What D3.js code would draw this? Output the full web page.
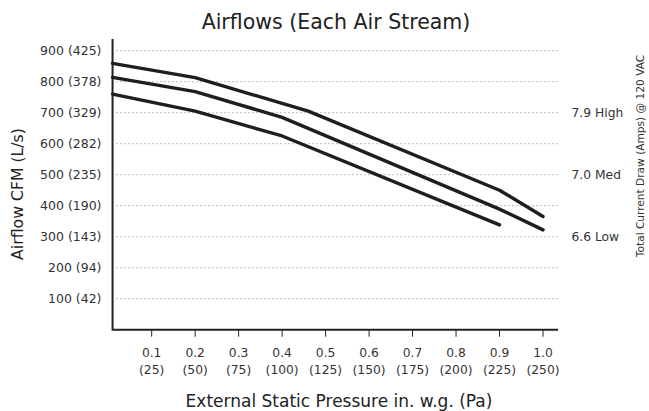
<!DOCTYPE html>
<html>
<head>
<meta charset="utf-8">
<script src="https://cdn.jsdelivr.net/npm/d3@7"></script>
<style>
  body { margin: 0; background: #fff; }
  svg text { font-family: "DejaVu Sans", sans-serif; fill: #333; }
</style>
</head>
<body>
<div id="chart"></div>
<script>
(function(){
    "use strict";

    // ticks
    var pressureTicks = [0.1, 0.2, 0.3, 0.4, 0.5, 0.6, 0.7, 0.8, 0.9, 1.0];
    var paLabels = ["(25)", "(50)", "(75)", "(100)", "(125)", "(150)", "(175)", "(200)", "(225)", "(250)"];
    var cfmTicks = [100, 200, 300, 400, 500, 600, 700, 800, 900];
    var lsLabels = ["(42)", "(94)", "(143)", "(190)", "(235)", "(282)", "(329)", "(378)", "(425)"];

    // series (pressure in. w.g. / airflow CFM)
    var highPressure = [0.01, 0.2, 0.46, 0.9, 1.0];
    var highCfm      = [859, 813, 705, 450, 365];
    var medPressure  = [0.01, 0.2, 0.4, 0.9, 1.0];
    var medCfm       = [814, 768, 685, 389, 322];
    var lowPressure  = [0.01, 0.2, 0.4, 0.9];
    var lowCfm       = [760, 705, 625, 338];

    // right side labels
    var ampLabels = ["7.9 High", "7.0 Med", "6.6 Low"];
    var ampAt     = [700, 500, 300];

    var width = 649, height = 411;

    var x = d3.scaleLinear().domain([0, 1]).range([108.2, 543]);
    var y = d3.scaleLinear().domain([0, 900]).range([329.7, 50.7]);

    var svg = d3.select("#chart").append("svg")
        .attr("width", width)
        .attr("height", height);

    var x0 = x(0.01), xEnd = 558;

    // grid
    svg.append("g").selectAll("line")
        .data(cfmTicks)
        .enter().append("line")
        .attr("x1", x0 + 4)
        .attr("x2", xEnd)
        .attr("y1", function(d) { return y(d); })
        .attr("y2", function(d) { return y(d); })
        .attr("stroke", "#777")
        .attr("stroke-width", 1)
        .attr("stroke-dasharray", "1,3");

    // y tick labels
    svg.append("g").selectAll("text")
        .data(cfmTicks)
        .enter().append("text")
        .attr("x", 101.5)
        .attr("y", function(d) { return y(d); })
        .attr("dy", "0.36em")
        .attr("text-anchor", "end")
        .style("font-size", "12.5px")
        .text(function(d, i) { return d + " " + lsLabels[i]; });

    // x axis ticks
    svg.append("g").selectAll("line")
        .data(pressureTicks)
        .enter().append("line")
        .attr("x1", function(d) { return x(d); })
        .attr("x2", function(d) { return x(d); })
        .attr("y1", y(0))
        .attr("y2", y(0) + 7)
        .attr("stroke", "#222")
        .attr("stroke-width", 1);

    var xl = svg.append("g").selectAll("text")
        .data(pressureTicks)
        .enter().append("text")
        .attr("text-anchor", "middle")
        .style("font-size", "12.3px");
    xl.append("tspan")
        .attr("x", function(d) { return x(d); })
        .attr("y", 357)
        .text(function(d) { return d.toFixed(1); });
    xl.append("tspan")
        .attr("x", function(d) { return x(d); })
        .attr("y", 374)
        .text(function(d, i) { return paLabels[i]; });

    // axes lines
    svg.append("path")
        .attr("d", "M" + x0 + "," + 39 + "V" + y(0) + "H" + xEnd)
        .attr("fill", "none")
        .attr("stroke", "#222")
        .attr("stroke-width", 2);

    // lines
    var line = d3.line()
        .x(function(d) { return x(d[0]); })
        .y(function(d) { return y(d[1]); });

    var series = [
        d3.zip(highPressure, highCfm),
        d3.zip(medPressure, medCfm),
        d3.zip(lowPressure, lowCfm)
    ];

    svg.append("g").selectAll("path")
        .data(series)
        .enter().append("path")
        .attr("d", line)
        .attr("fill", "none")
        .attr("stroke", "#1e1e1e")
        .attr("stroke-width", 3.4)
        .attr("stroke-linecap", "round")
        .attr("stroke-linejoin", "round");

    // amp labels
    svg.append("g").selectAll("text")
        .data(ampLabels)
        .enter().append("text")
        .attr("x", 571.5)
        .attr("y", function(d, i) { return y(ampAt[i]); })
        .attr("dy", "0.36em")
        .style("font-size", "12.3px")
        .text(function(d) { return d; });

    // titles
    svg.append("text")
        .attr("x", 336)
        .attr("y", 29)
        .attr("text-anchor", "middle")
        .style("font-size", "20.5px")
        .style("fill", "#222")
        .text("Airflows (Each Air Stream)");

    svg.append("text")
        .attr("x", 339)
        .attr("y", 407)
        .attr("text-anchor", "middle")
        .style("font-size", "17px")
        .style("fill", "#222")
        .text("External Static Pressure in. w.g. (Pa)");

    svg.append("text")
        .attr("transform", "translate(23,194) rotate(-90)")
        .attr("text-anchor", "middle")
        .style("font-size", "15.7px")
        .style("fill", "#222")
        .text("Airflow CFM (L/s)");

    svg.append("text")
        .attr("transform", "translate(644,156) rotate(-90)")
        .attr("text-anchor", "middle")
        .style("font-size", "10.6px")
        .text("Total Current Draw (Amps) @ 120 VAC");
})();
</script>
</body>
</html>
